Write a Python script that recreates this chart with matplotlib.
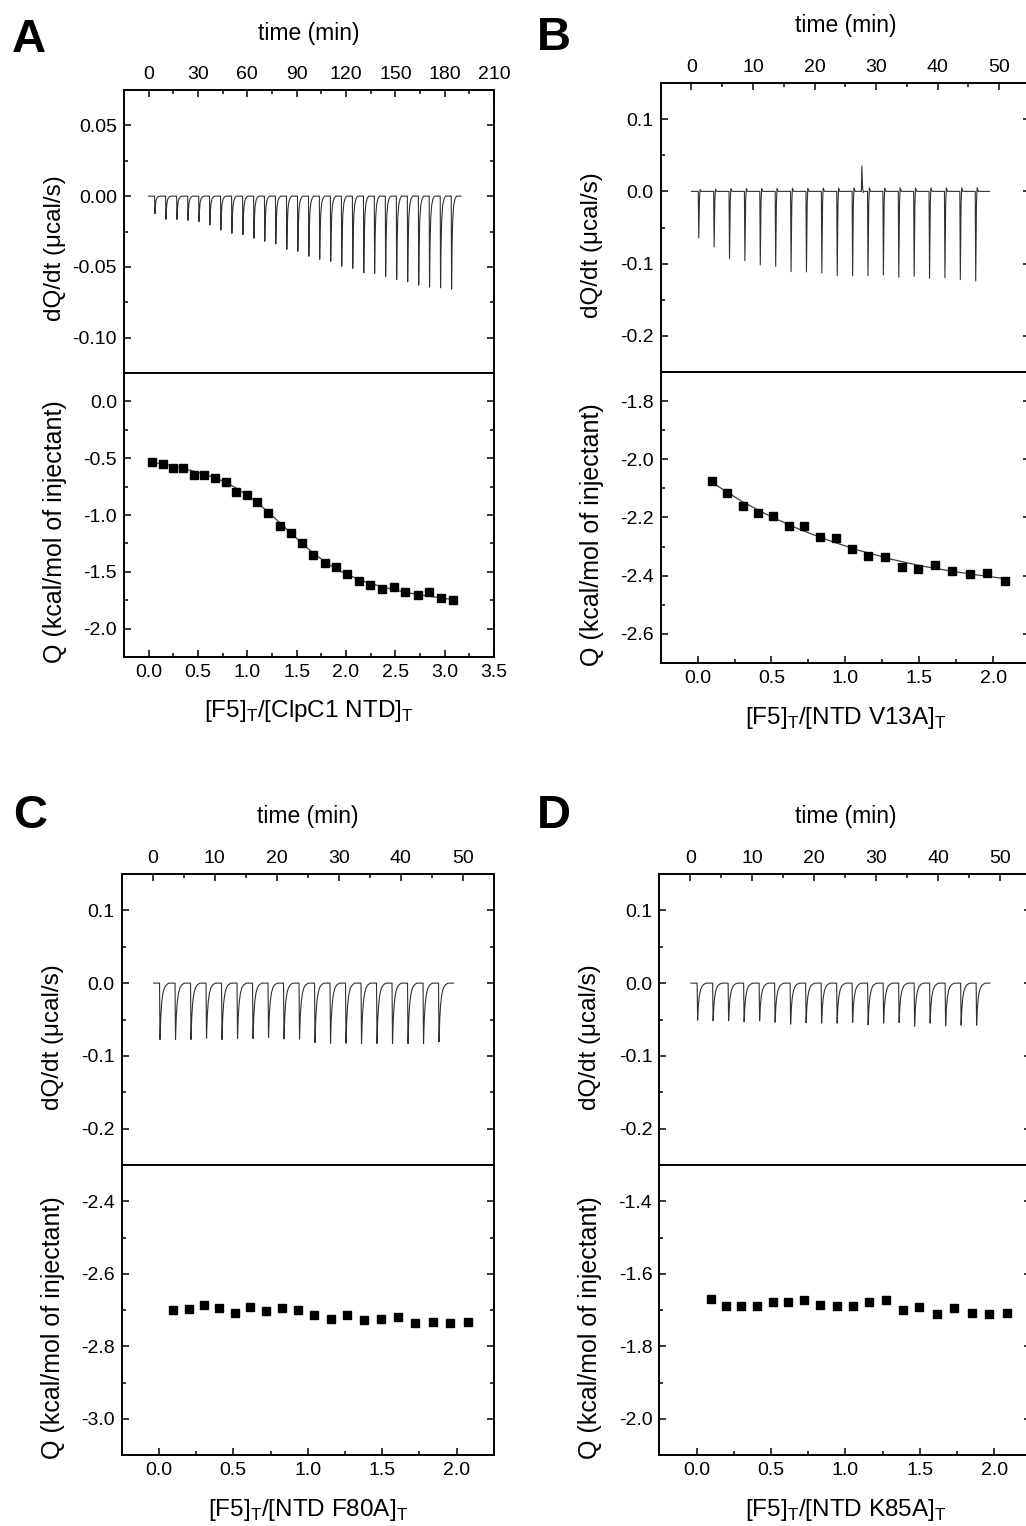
import numpy as np
import matplotlib
matplotlib.use("Agg")
import matplotlib.pyplot as plt
from matplotlib.ticker import MultipleLocator, FuncFormatter

plt.rcParams['font.family'] = ['Liberation Sans', 'DejaVu Sans']
plt.rcParams['mathtext.fontset'] = 'custom'
plt.rcParams['mathtext.rm'] = 'Liberation Sans'
plt.rcParams['axes.unicode_minus'] = False

# ---------------- data ----------------
# A: F5 into ClpC1 NTD
a_inj_time  = [3.6, 10.3, 17.0, 23.7, 30.4, 37.0, 43.7, 50.4, 57.1, 63.8, 70.4, 77.1, 83.8, 90.5,
               97.2, 103.8, 110.5, 117.2, 123.9, 130.6, 137.2, 143.9, 150.6, 157.3, 164.0, 170.6, 177.3, 184.0]
a_inj_depth = [-0.0124, -0.0164, -0.0164, -0.0171, -0.0180, -0.0204, -0.0240, -0.0263, -0.0272, -0.0298,
               -0.0319, -0.0338, -0.0376, -0.0390, -0.0425, -0.0446, -0.0460, -0.0495, -0.0510, -0.0542,
               -0.0547, -0.0568, -0.0589, -0.0606, -0.0629, -0.0643, -0.0648, -0.0657]
a_ratio = [0.037, 0.142, 0.246, 0.350, 0.458, 0.563, 0.671, 0.779, 0.887, 0.995, 1.100, 1.207, 1.330, 1.440,
           1.550, 1.670, 1.785, 1.900, 2.010, 2.130, 2.247, 2.365, 2.483, 2.600, 2.729, 2.844, 2.965, 3.087]
a_heat  = [-0.532, -0.550, -0.588, -0.585, -0.644, -0.650, -0.676, -0.709, -0.797, -0.826, -0.888, -0.979,
           -1.094, -1.162, -1.244, -1.353, -1.424, -1.459, -1.518, -1.579, -1.612, -1.650, -1.638, -1.676,
           -1.703, -1.682, -1.732, -1.744]
a_fit_x = [0.037, 0.2, 0.35, 0.5, 0.65, 0.8, 0.9, 1.0, 1.1, 1.2, 1.3, 1.4, 1.5, 1.6, 1.7, 1.8, 1.9, 2.0,
           2.2, 2.4, 2.6, 2.8, 3.087]
a_fit_y = [-0.535, -0.560, -0.590, -0.625, -0.665, -0.720, -0.770, -0.825, -0.890, -0.965, -1.045, -1.125,
           -1.205, -1.285, -1.355, -1.420, -1.475, -1.520, -1.590, -1.640, -1.680, -1.710, -1.745]

# B: F5 into NTD V13A
b_inj_time  = [1.1, 3.6, 6.1, 8.6, 11.1, 13.6, 16.1, 18.6, 21.1, 23.6, 26.1, 28.6, 31.1, 33.6, 36.1,
               38.6, 41.1, 43.6, 46.1]
b_inj_depth = [-0.0645, -0.0770, -0.0930, -0.0959, -0.1018, -0.1037, -0.1110, -0.1115, -0.1129, -0.1166,
               -0.1166, -0.1166, -0.1157, -0.1189, -0.1175, -0.1203, -0.1194, -0.1221, -0.1240]
b_ratio = [0.099, 0.200, 0.304, 0.408, 0.511, 0.617, 0.721, 0.829, 0.937, 1.045, 1.155, 1.268, 1.383,
           1.495, 1.608, 1.725, 1.842, 1.959, 2.079]
b_heat  = [-2.076, -2.116, -2.162, -2.185, -2.194, -2.228, -2.228, -2.266, -2.269, -2.308, -2.334, -2.335,
           -2.369, -2.378, -2.364, -2.384, -2.394, -2.391, -2.417]
b_fit_x = [0.099, 0.3, 0.5, 0.7, 0.9, 1.1, 1.3, 1.5, 1.7, 1.9, 2.079]
b_fit_y = [-2.080, -2.145, -2.198, -2.243, -2.281, -2.314, -2.342, -2.365, -2.383, -2.398, -2.410]
b_spike_time, b_spike_height = 27.6, 0.035

# C: F5 into NTD F80A
c_inj_time  = b_inj_time
c_inj_depth = [-0.0775, -0.0775, -0.0775, -0.0757, -0.0775, -0.0762, -0.0762, -0.0748, -0.0766, -0.0770,
               -0.0817, -0.0826, -0.0826, -0.0830, -0.0830, -0.0830, -0.0830, -0.0830, -0.0807]
c_ratio = [0.094, 0.200, 0.303, 0.406, 0.509, 0.614, 0.720, 0.827, 0.935, 1.043, 1.155, 1.267, 1.381,
           1.491, 1.605, 1.720, 1.839, 1.955, 2.076]
c_heat  = [-2.701, -2.697, -2.686, -2.695, -2.707, -2.691, -2.703, -2.694, -2.699, -2.715, -2.725, -2.713,
           -2.727, -2.724, -2.720, -2.735, -2.732, -2.735, -2.734]

# D: F5 into NTD K85A
d_inj_time  = b_inj_time
d_inj_depth = [-0.0509, -0.0518, -0.0518, -0.0532, -0.0518, -0.0537, -0.0564, -0.0546, -0.0550, -0.0550,
               -0.0541, -0.0573, -0.0550, -0.0541, -0.0592, -0.0550, -0.0587, -0.0578, -0.0578]
d_ratio = [0.097, 0.199, 0.301, 0.407, 0.514, 0.615, 0.724, 0.833, 0.941, 1.050, 1.161, 1.276, 1.387,
           1.498, 1.615, 1.731, 1.851, 1.966, 2.084]
d_heat  = [-1.669, -1.690, -1.689, -1.690, -1.679, -1.677, -1.673, -1.685, -1.690, -1.688, -1.678, -1.672,
           -1.699, -1.693, -1.711, -1.695, -1.709, -1.710, -1.707]

# shape of one injection peak (minutes after injection, fraction of peak depth)
a_shape = [(0.0, 0.0), (0.2, 1.0), (0.5, 0.55), (0.9, 0.25), (1.5, 0.10), (2.3, 0.03), (3.2, 0.0)]
b_shape = [(0.0, 0.0), (0.08, 1.0), (0.2, 0.15), (0.3, -0.04), (0.5, 0.0)]
cd_shape = [(0.0, 0.0), (0.08, 1.0), (0.2, 0.6), (0.35, 0.35), (0.55, 0.18), (0.8, 0.08),
            (1.1, 0.03), (1.5, 0.0)]


def trace(times, depths, shape, t_start, t_end):
    t, q = [t_start], [0.0]
    for ti, di in zip(times, depths):
        for dt, frac in shape:
            t.append(ti + dt)
            q.append(di * frac)
    t.append(t_end)
    q.append(0.0)
    return np.array(t), np.array(q)


def fmt(decimals):
    return FuncFormatter(lambda v, p: f"{round(v, 6) + 0.0:.{decimals}f}")


W, H = 1026, 1526


def box(left, right, top, bottom):
    return [left / W, 1 - bottom / H, (right - left) / W, (bottom - top) / H]


def common_ticks(ax):
    ax.tick_params(which='major', length=5, width=1.1, labelsize=14, pad=5)
    ax.tick_params(which='minor', length=3, width=1.1)
    for s in ax.spines.values():
        s.set_linewidth(1.4)


def setup_top(ax, xlim, ylim, xmaj, ymaj, ydec):
    ax.set_xlim(*xlim)
    ax.set_ylim(*ylim)
    ax.xaxis.set_major_locator(MultipleLocator(xmaj))
    ax.xaxis.set_minor_locator(MultipleLocator(xmaj / 2))
    ax.yaxis.set_major_locator(MultipleLocator(ymaj))
    ax.yaxis.set_minor_locator(MultipleLocator(ymaj / 2))
    ax.xaxis.set_major_formatter(FuncFormatter(lambda v, p: f"{int(round(v))}"))
    ax.yaxis.set_major_formatter(fmt(ydec))
    ax.xaxis.tick_top()
    ax.xaxis.set_label_position('top')
    ax.tick_params(axis='x', which='both', direction='in', top=True, bottom=False,
                   labeltop=True, labelbottom=False)
    ax.tick_params(axis='y', which='both', direction='in', left=True, right=True)
    common_ticks(ax)
    ax.set_xlabel('time (min)', fontsize=16.5, va='baseline')
    ax.xaxis.set_label_coords(0.5, 1.176)
    ax.set_ylabel('dQ/dt (μcal/s)', fontsize=17.5, va='center')
    ax.yaxis.set_label_coords(-0.186, 0.44)


def setup_bottom(ax, xlim, ylim, ymaj, xlabel):
    ax.set_xlim(*xlim)
    ax.set_ylim(*ylim)
    ax.xaxis.set_major_locator(MultipleLocator(0.5))
    ax.xaxis.set_minor_locator(MultipleLocator(0.25))
    ax.yaxis.set_major_locator(MultipleLocator(ymaj))
    ax.yaxis.set_minor_locator(MultipleLocator(ymaj / 2))
    ax.xaxis.set_major_formatter(fmt(1))
    ax.yaxis.set_major_formatter(fmt(1))
    ax.tick_params(axis='x', which='both', direction='in', top=False, bottom=True)
    ax.tick_params(axis='y', which='both', direction='in', left=True, right=True)
    common_ticks(ax)
    ax.set_xlabel(xlabel, fontsize=17.5, va='baseline')
    ax.xaxis.set_label_coords(0.5, -0.21)
    ax.set_ylabel('Q (kcal/mol of injectant)', fontsize=18, va='center')
    ax.yaxis.set_label_coords(-0.186, 0.44)


fig = plt.figure(figsize=(W / 100, H / 100), dpi=100)

trace_kw = dict(color='#303030', lw=0.8)
pt_kw = dict(ls='none', marker='s', ms=5.8, color='black')
fit_kw = dict(color='#404040', lw=0.9)

# ---- A ----
ax = fig.add_axes(box(124, 494, 90, 373))
t, q = trace(a_inj_time, a_inj_depth, a_shape, 0.0, 190.0)
ax.plot(t, q, **trace_kw)
setup_top(ax, (-15, 210), (-0.125, 0.075), 30, 0.05, 2)
ax = fig.add_axes(box(124, 494, 373, 657))
ax.plot(a_fit_x, a_fit_y, **fit_kw)
ax.plot(a_ratio, a_heat, **pt_kw)
setup_bottom(ax, (-0.25, 3.5), (-2.25, 0.25), 0.5,
             r'[F5]$_\mathregular{T}$/[ClpC1 NTD]$_\mathregular{T}$')

# ---- B ----
ax = fig.add_axes(box(660.7, 1030, 83, 372))
t, q = trace(b_inj_time + [b_spike_time], b_inj_depth + [b_spike_height], b_shape, 0.0, 48.4)
order = np.argsort(t, kind='stable')
ax.plot(t[order], q[order], **trace_kw)
setup_top(ax, (-5, 55), (-0.25, 0.15), 10, 0.1, 1)
ax = fig.add_axes(box(660.7, 1030, 372, 663))
ax.plot(b_fit_x, b_fit_y, **fit_kw)
ax.plot(b_ratio, b_heat, **pt_kw)
setup_bottom(ax, (-0.25, 2.25), (-2.7, -1.7), 0.2,
             r'[F5]$_\mathregular{T}$/[NTD V13A]$_\mathregular{T}$')

# ---- C ----
ax = fig.add_axes(box(121.7, 493.7, 874, 1165))
t, q = trace(c_inj_time, c_inj_depth, cd_shape, 0.16, 48.5)
ax.plot(t, q, **trace_kw)
setup_top(ax, (-5, 55), (-0.25, 0.15), 10, 0.1, 1)
ax = fig.add_axes(box(121.7, 493.7, 1165, 1455))
ax.plot(c_ratio, c_heat, **pt_kw)
setup_bottom(ax, (-0.25, 2.25), (-3.1, -2.3), 0.2,
             r'[F5]$_\mathregular{T}$/[NTD F80A]$_\mathregular{T}$')

# ---- D ----
ax = fig.add_axes(box(659.3, 1031.3, 874, 1165))
t, q = trace(d_inj_time, d_inj_depth, cd_shape, 0.1, 48.3)
ax.plot(t, q, **trace_kw)
setup_top(ax, (-5, 55), (-0.25, 0.15), 10, 0.1, 1)
ax = fig.add_axes(box(659.3, 1031.3, 1165, 1455))
ax.plot(d_ratio, d_heat, **pt_kw)
setup_bottom(ax, (-0.25, 2.25), (-2.1, -1.3), 0.2,
             r'[F5]$_\mathregular{T}$/[NTD K85A]$_\mathregular{T}$')

# panel letters
for letter, x, y in [('A', 12, 52), ('B', 537, 50), ('C', 13, 828), ('D', 537, 828)]:
    fig.text(x / W, 1 - y / H, letter, fontsize=34, fontweight='bold', va='baseline', ha='left')

fig.savefig('out.png', dpi=100)
